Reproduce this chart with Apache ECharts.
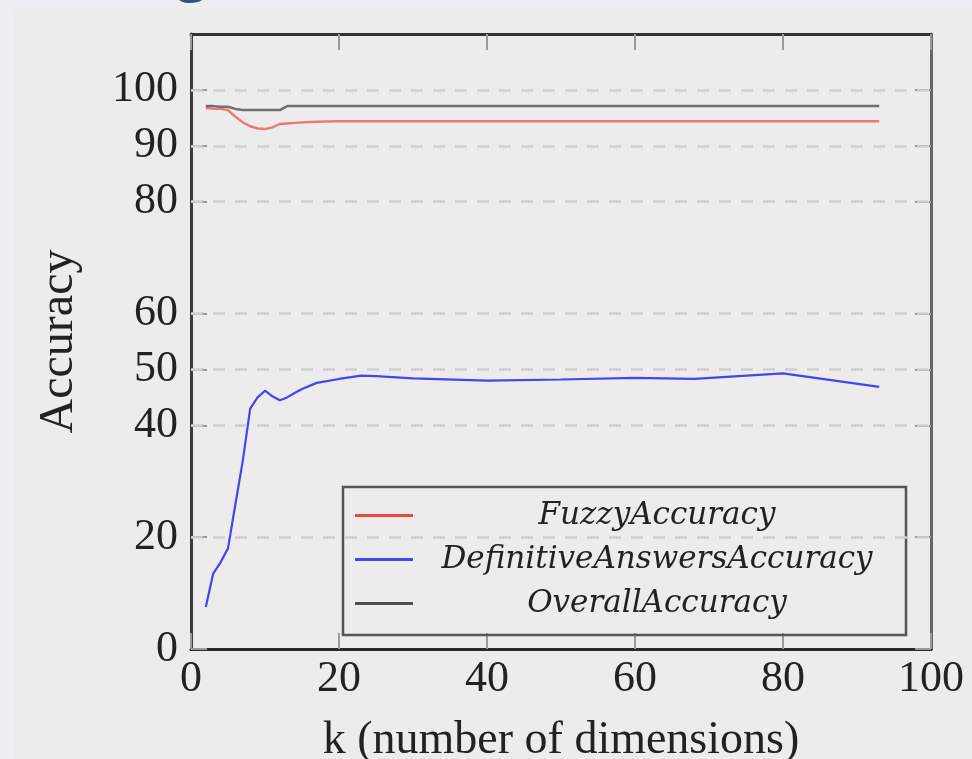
<!DOCTYPE html>
<html>
<head>
<meta charset="utf-8">
<script src="https://cdn.jsdelivr.net/npm/echarts@6/dist/echarts.min.js"></script>
<style>
  html, body { margin: 0; padding: 0; background: #eceef2; overflow: hidden; }
  #chart-main { width: 972px; height: 759px; }
</style>
</head>
<body>
<div id="chart-main"></div>
<script>
// k values (x) and the three accuracy curves
const kValues = [2, 3, 4, 5, 6, 7, 8, 9, 10, 11, 12, 13, 14, 15, 17, 20, 23, 25, 30, 40, 50, 60, 68, 80, 93];
const fuzzyAcc = [96.8, 96.6, 96.6, 96.4, 95.2, 94.2, 93.5, 93.1, 93.0, 93.3, 93.9, 94.0, 94.1, 94.2, 94.3, 94.4, 94.4, 94.4, 94.4, 94.4, 94.4, 94.4, 94.4, 94.4, 94.4];
const definitiveAcc = [7.5, 13.5, 15.5, 18.0, 25.9, 33.7, 43.0, 45.0, 46.2, 45.2, 44.5, 45.0, 45.8, 46.5, 47.6, 48.3, 48.9, 48.8, 48.4, 48.0, 48.2, 48.5, 48.3, 49.3, 46.9];
const overallAcc = [97.1, 97.1, 97.0, 97.0, 96.6, 96.4, 96.4, 96.4, 96.4, 96.4, 96.4, 97.1, 97.1, 97.1, 97.1, 97.1, 97.1, 97.1, 97.1, 97.1, 97.1, 97.1, 97.1, 97.1, 97.1];

const seriesNames = ['FuzzyAccuracy', 'DefinitiveAnswersAccuracy', 'OverallAccuracy'];
const seriesColors = ['#ee4444', '#4545ee', '#505050'];
const yTickValues = [0, 20, 40, 50, 60, 80, 90, 100];
const gridValues = [20, 40, 50, 60, 80, 90, 100];
const xTickValues = [0, 20, 40, 60, 80, 100];

const chartDom = document.getElementById('chart-main');
const myChart = echarts.init(chartDom, null, { width: 972, height: 759 });

const serif = '"Liberation Serif", "DejaVu Serif", serif';
const tickStyle = { show: true, inside: true, length: 16, lineStyle: { color: '#9a9a9a', width: 2 } };

function pairs(ys) {
    return kValues.map((k, i) => [k, ys[i]]);
}

const option = {
    backgroundColor: '#eceef2',
    animation: false,
    graphic: [
        { type: 'rect', z: -10, shape: { x: 14, y: 9, width: 958, height: 750 }, style: { fill: '#ececec' } },
        { type: 'text', left: 176, top: -57, style: { text: 'g', font: '58px "Open Sans", sans-serif', fill: '#3b5078' } }
    ],
    // fixed plot box: x 191..931, y 34..649 (the x title is allowed to run off the bottom)
    grid: { left: 191, width: 740, top: 34, height: 615, containLabel: false, outerBoundsMode: 'none' },
    legend: {
        data: seriesNames.map((n, i) => ({ name: n, icon: 'rect', itemStyle: { color: seriesColors[i] } })),
        orient: 'vertical',
        left: 343,
        top: 487,
        padding: [13, 10, 16, 12],
        borderColor: '#555',
        borderWidth: 2.5,
        itemWidth: 58,
        itemHeight: 3,
        itemGap: 13,
        selectedMode: false,
        formatter: name => '{t|' + name + '}',
        textStyle: {
            rich: {
                t: {
                    width: 478, align: 'center', lineHeight: 30,
                    fontFamily: '"DejaVu Serif", serif', fontStyle: 'italic', fontSize: 31, color: '#222'
                }
            }
        }
    },
    xAxis: [
        {
            type: 'value', min: 0, max: 100, interval: 20, position: 'bottom',
            name: 'k (number of dimensions)', nameLocation: 'middle', nameGap: 69,
            nameTextStyle: { fontFamily: serif, fontSize: 46, color: '#222' },
            axisLine: { show: true, onZero: false, lineStyle: { color: '#2a2a2a', width: 3 } },
            axisTick: tickStyle,
            axisLabel: { fontFamily: serif, fontSize: 44, color: '#222', margin: 8, customValues: xTickValues },
            splitLine: { show: false }
        },
        {
            type: 'value', min: 0, max: 100, interval: 20, position: 'top',
            axisLine: { show: true, onZero: false, lineStyle: { color: '#333', width: 3 } },
            axisTick: tickStyle,
            axisLabel: { show: false },
            splitLine: { show: false }
        }
    ],
    yAxis: [
        {
            type: 'value', min: 0, max: 110, interval: 10, position: 'left',
            name: 'Accuracy', nameLocation: 'middle', nameRotate: 90, nameGap: 108,
            nameTextStyle: { fontFamily: serif, fontSize: 48, color: '#222' },
            axisLine: { show: true, onZero: false, lineStyle: { color: '#3a3a3a', width: 3 } },
            axisTick: Object.assign({}, tickStyle, { customValues: yTickValues }),
            axisLabel: { fontFamily: serif, fontSize: 44, color: '#222', margin: 13, customValues: yTickValues },
            splitLine: { show: false }
        },
        {
            type: 'value', min: 0, max: 110, interval: 10, position: 'right',
            axisLine: { show: true, onZero: false, lineStyle: { color: '#666', width: 3 } },
            axisTick: Object.assign({}, tickStyle, { customValues: yTickValues }),
            axisLabel: { show: false },
            splitLine: { show: false }
        }
    ],
    series: [
        {
            // dashed horizontal grid lines
            name: 'grid', type: 'line', data: [], z: 1, silent: true,
            markLine: {
                silent: true, symbol: ['none', 'none'], label: { show: false }, animation: false,
                lineStyle: { color: '#cfcfcf', type: [12, 10], width: 2.5 },
                data: gridValues.map(v => ({ yAxis: v }))
            }
        },
        {
            name: seriesNames[0], type: 'line', symbol: 'none', z: 3,
            lineStyle: { color: seriesColors[0], width: 2.4, opacity: 0.7 },
            itemStyle: { color: seriesColors[0] },
            data: pairs(fuzzyAcc)
        },
        {
            name: seriesNames[1], type: 'line', symbol: 'none', z: 3,
            lineStyle: { color: seriesColors[1], width: 2.2 },
            itemStyle: { color: seriesColors[1] },
            data: pairs(definitiveAcc)
        },
        {
            name: seriesNames[2], type: 'line', symbol: 'none', z: 3,
            lineStyle: { color: seriesColors[2], width: 2.5, opacity: 0.8 },
            itemStyle: { color: seriesColors[2] },
            data: pairs(overallAcc)
        }
    ]
};

myChart.setOption(option);
</script>
</body>
</html>
